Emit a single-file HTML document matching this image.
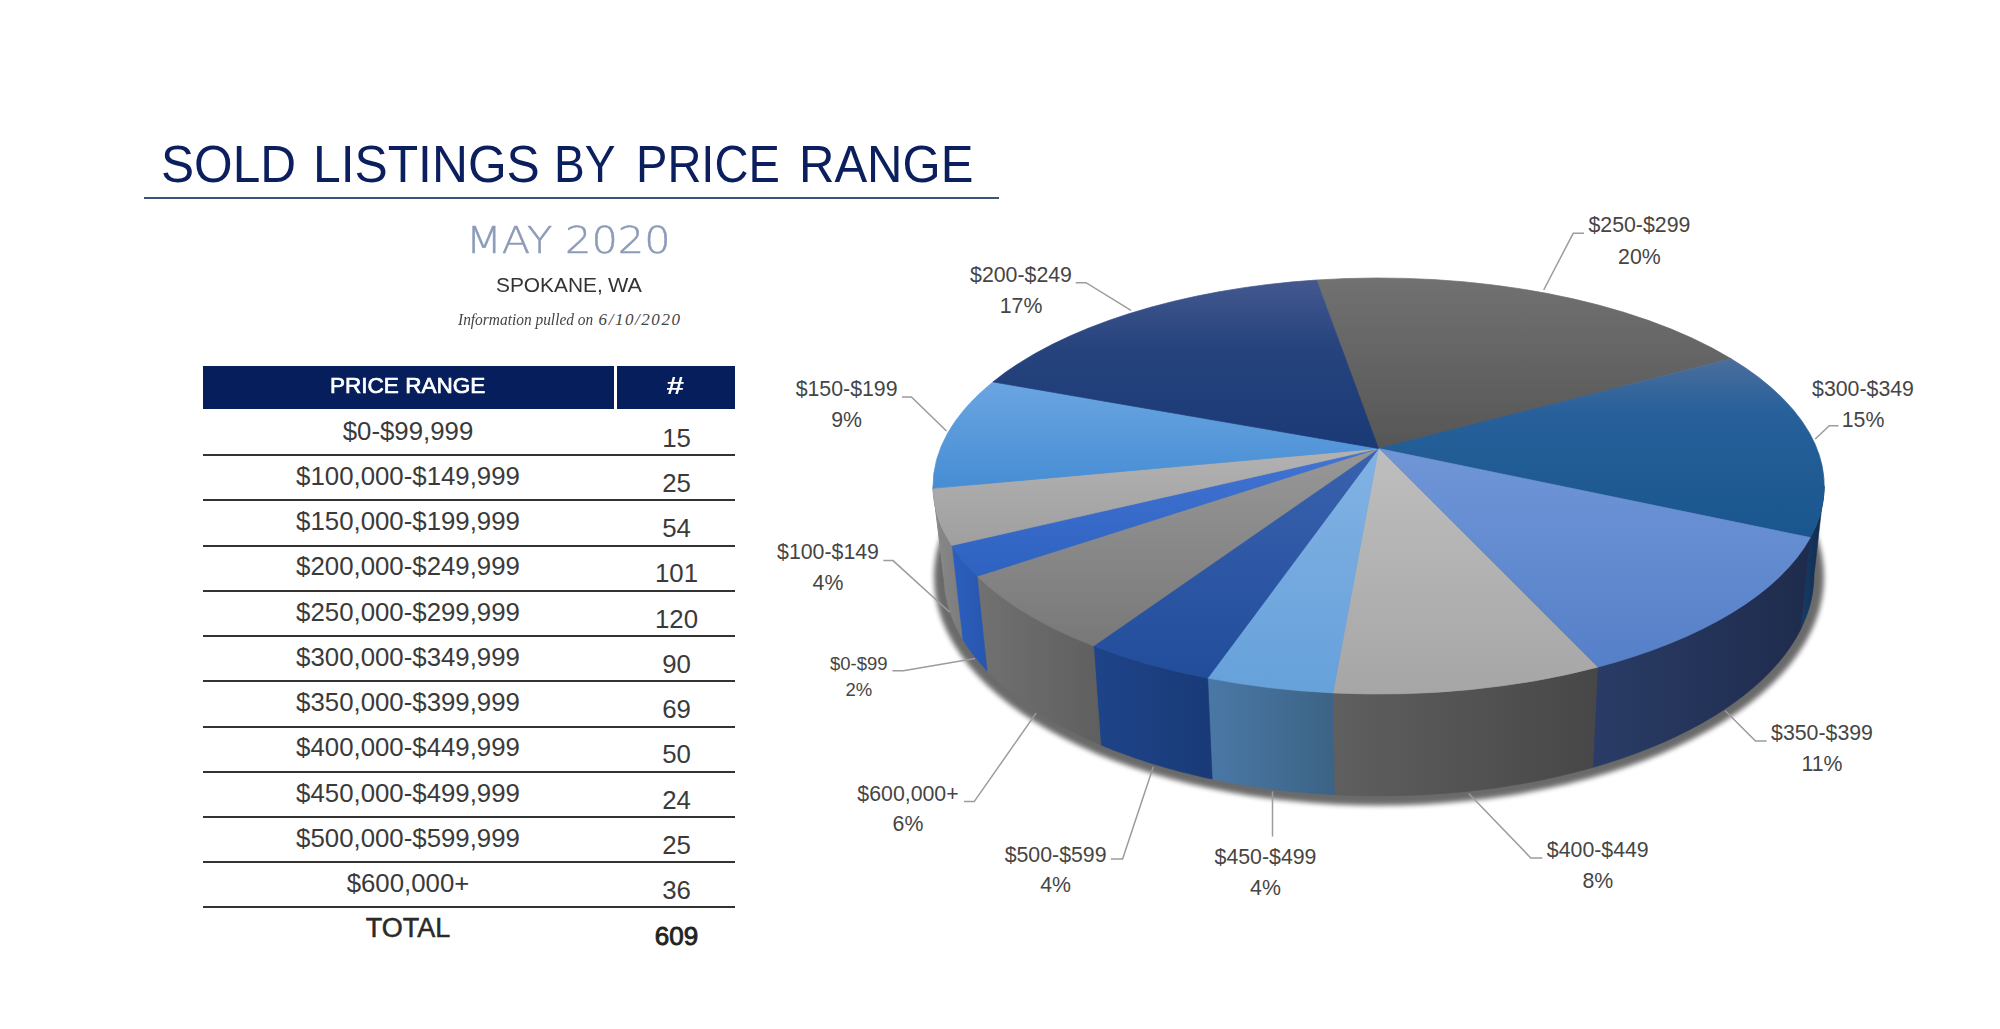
<!DOCTYPE html>
<html lang="en"><head><meta charset="utf-8"><title>Sold Listings by Price Range</title>
<style>
html,body{margin:0;padding:0;background:#fff;}
body{width:2000px;height:1029px;position:relative;overflow:hidden;font-family:"Liberation Sans",sans-serif;}
.pie{position:absolute;left:0;top:0;}
h1{margin:0;font-size:inherit;font-weight:inherit;}
.t{position:absolute;display:block;line-height:0;white-space:nowrap;transform-origin:0 0;}
.rule{position:absolute;left:144px;top:197.3px;width:855px;height:1.9px;background:#3b537d;}
.th{position:absolute;top:366px;height:42.8px;background:#061f5c;}
.th1{left:202.6px;width:411px;}
.th2{left:616.6px;width:118.4px;}
.th .t{margin-top:-366px;}
.th1 .t{margin-left:-202.6px;}
.th2 .t{margin-left:-616.6px;}
.ln{position:absolute;left:202.6px;width:532.4px;height:2px;background:#333;}
.row{position:absolute;left:203px;width:532px;height:45.25px;font-size:25.8px;color:#3a3a3a;}
.row .c1{position:absolute;left:0;width:410px;text-align:center;top:6.3px;line-height:30px;}
.row .c2{position:absolute;left:414px;width:119px;text-align:center;top:13.2px;line-height:30px;}
.row.total .c1{font-weight:400;font-size:27px;color:#2a2a2a;top:6px;-webkit-text-stroke:0.5px #2a2a2a;}
.row.total .c2{font-weight:400;font-size:26px;color:#222;top:14px;-webkit-text-stroke:0.9px #222;}
</style></head><body>
<h1><span class="t" style="left:161.27px;top:165.32px;font-family:'Liberation Sans',sans-serif;font-weight:400;font-style:normal;font-size:51.3px;color:#0b1f5e;transform:scaleX(0.9672);">SOLD</span> <span class="t" style="left:313.49px;top:165.32px;font-family:'Liberation Sans',sans-serif;font-weight:400;font-style:normal;font-size:51.3px;color:#0b1f5e;transform:scaleX(0.9704);">LISTINGS</span> <span class="t" style="left:553.80px;top:165.32px;font-family:'Liberation Sans',sans-serif;font-weight:400;font-style:normal;font-size:51.3px;color:#0b1f5e;transform:scaleX(0.8986);">BY</span> <span class="t" style="left:636.12px;top:165.32px;font-family:'Liberation Sans',sans-serif;font-weight:400;font-style:normal;font-size:51.3px;color:#0b1f5e;transform:scaleX(0.9173);">PRICE</span> <span class="t" style="left:799.25px;top:165.32px;font-family:'Liberation Sans',sans-serif;font-weight:400;font-style:normal;font-size:51.3px;color:#0b1f5e;transform:scaleX(0.9558);">RANGE</span></h1>
<div class="rule"></div>
<div class="month"><span class="t" style="left:465.86px;top:239.76px;font-family:'DejaVu Sans',sans-serif;font-weight:200;font-style:normal;font-size:37.4px;color:#8d9bb8;transform:scaleX(1.1104);-webkit-text-stroke:0.45px #8d9bb8;">MAY</span> <span class="t" style="left:565.09px;top:239.76px;font-family:'DejaVu Sans',sans-serif;font-weight:200;font-style:normal;font-size:37.4px;color:#8d9bb8;transform:scaleX(1.1099);-webkit-text-stroke:0.45px #8d9bb8;">2020</span></div>
<div class="city"><span class="t" style="left:495.66px;top:285.39px;font-family:'Liberation Sans',sans-serif;font-weight:400;font-style:normal;font-size:20.8px;color:#333;transform:scaleX(1.0045);">SPOKANE,</span> <span class="t" style="left:607.59px;top:285.39px;font-family:'Liberation Sans',sans-serif;font-weight:400;font-style:normal;font-size:20.8px;color:#333;transform:scaleX(1.0367);">WA</span></div>
<div class="info"><span class="t" style="left:457.54px;top:319.96px;font-family:'Liberation Serif',serif;font-weight:400;font-style:italic;font-size:17px;color:#444;transform:scaleX(0.9062);">Information pulled on</span> <span class="t" style="left:598.62px;top:319.96px;font-family:'Liberation Serif',serif;font-weight:400;font-style:italic;font-size:17px;color:#444;transform:scaleX(1.0000);letter-spacing:1.55px;">6/10/2020</span></div>
<div class="th th1"><span class="t" style="left:330.44px;top:385.67px;font-family:'Liberation Sans',sans-serif;font-weight:400;font-style:normal;font-size:22.6px;color:#fff;transform:scaleX(0.9975);-webkit-text-stroke:0.7px #fff;">PRICE RANGE</span></div><div class="th th2"><span class="t" style="left:665.57px;top:385.83px;font-family:'Liberation Sans',sans-serif;font-weight:700;font-style:italic;font-size:23px;color:#fff;transform:scaleX(1.3813);">#</span></div>
<div class="row" style="top:409.50px"><span class="c1">$0-$99,999</span><span class="c2">15</span></div><div class="ln" style="top:454px"></div>
<div class="row" style="top:454.73px"><span class="c1">$100,000-$149,999</span><span class="c2">25</span></div><div class="ln" style="top:499px"></div>
<div class="row" style="top:499.96px"><span class="c1">$150,000-$199,999</span><span class="c2">54</span></div><div class="ln" style="top:545px"></div>
<div class="row" style="top:545.19px"><span class="c1">$200,000-$249,999</span><span class="c2">101</span></div><div class="ln" style="top:590px"></div>
<div class="row" style="top:590.42px"><span class="c1">$250,000-$299,999</span><span class="c2">120</span></div><div class="ln" style="top:635px"></div>
<div class="row" style="top:635.65px"><span class="c1">$300,000-$349,999</span><span class="c2">90</span></div><div class="ln" style="top:680px"></div>
<div class="row" style="top:680.88px"><span class="c1">$350,000-$399,999</span><span class="c2">69</span></div><div class="ln" style="top:726px"></div>
<div class="row" style="top:726.11px"><span class="c1">$400,000-$449,999</span><span class="c2">50</span></div><div class="ln" style="top:771px"></div>
<div class="row" style="top:771.34px"><span class="c1">$450,000-$499,999</span><span class="c2">24</span></div><div class="ln" style="top:816px"></div>
<div class="row" style="top:816.57px"><span class="c1">$500,000-$599,999</span><span class="c2">25</span></div><div class="ln" style="top:861px"></div>
<div class="row" style="top:861.80px"><span class="c1">$600,000+</span><span class="c2">36</span></div><div class="ln" style="top:906px"></div>
<div class="row total" style="top:907.03px"><span class="c1">TOTAL</span><span class="c2">609</span></div>
<svg class="pie" width="2000" height="1029" viewBox="0 0 2000 1029">
<defs>
<linearGradient id="g250" x1="0" y1="0" x2="0" y2="1"><stop offset="0" stop-color="#717171"/><stop offset="1" stop-color="#565656"/></linearGradient>
<linearGradient id="g300" x1="0" y1="0" x2="0" y2="1"><stop offset="0" stop-color="#4b6e9d"/><stop offset="0.3" stop-color="#27609a"/><stop offset="1" stop-color="#19568e"/></linearGradient>
<linearGradient id="g350" x1="0" y1="0" x2="0" y2="1"><stop offset="0" stop-color="#7096d7"/><stop offset="1" stop-color="#557fc8"/></linearGradient>
<linearGradient id="g400" x1="0" y1="0" x2="0" y2="1"><stop offset="0" stop-color="#bebebe"/><stop offset="1" stop-color="#a6a6a6"/></linearGradient>
<linearGradient id="g450" x1="0" y1="0" x2="0" y2="1"><stop offset="0" stop-color="#82b2e4"/><stop offset="1" stop-color="#66a1da"/></linearGradient>
<linearGradient id="g500" x1="0" y1="0" x2="0" y2="1"><stop offset="0" stop-color="#3a62ae"/><stop offset="1" stop-color="#214d9b"/></linearGradient>
<linearGradient id="g600" x1="0" y1="0" x2="0" y2="1"><stop offset="0" stop-color="#989898"/><stop offset="1" stop-color="#787878"/></linearGradient>
<linearGradient id="g0" x1="0" y1="0" x2="0" y2="1"><stop offset="0" stop-color="#4274d3"/><stop offset="1" stop-color="#2e62c0"/></linearGradient>
<linearGradient id="g100" x1="0" y1="0" x2="0" y2="1"><stop offset="0" stop-color="#b2b2b2"/><stop offset="1" stop-color="#9f9f9f"/></linearGradient>
<linearGradient id="g150" x1="0" y1="0" x2="0" y2="1"><stop offset="0" stop-color="#6aa5e1"/><stop offset="1" stop-color="#468dd4"/></linearGradient>
<linearGradient id="g200" x1="0" y1="0" x2="0" y2="1"><stop offset="0" stop-color="#44588f"/><stop offset="0.4" stop-color="#26437d"/><stop offset="1" stop-color="#1a3a76"/></linearGradient>
<linearGradient id="s300"><stop offset="0" stop-color="#173c66"/><stop offset="1" stop-color="#10294a"/></linearGradient>
<linearGradient id="s350"><stop offset="0" stop-color="#2a3c66"/><stop offset="1" stop-color="#1e2b4c"/></linearGradient>
<linearGradient id="s400"><stop offset="0" stop-color="#5f5f5f"/><stop offset="1" stop-color="#474747"/></linearGradient>
<linearGradient id="s450"><stop offset="0" stop-color="#4a78a6"/><stop offset="1" stop-color="#3c6385"/></linearGradient>
<linearGradient id="s500"><stop offset="0" stop-color="#1e4489"/><stop offset="1" stop-color="#193a77"/></linearGradient>
<linearGradient id="s600"><stop offset="0" stop-color="#717171"/><stop offset="1" stop-color="#5f5f5f"/></linearGradient>
<linearGradient id="s0"><stop offset="0" stop-color="#2b5fbe"/><stop offset="1" stop-color="#2856ae"/></linearGradient>
<linearGradient id="s100"><stop offset="0" stop-color="#8a8a8a"/><stop offset="1" stop-color="#7c7c7c"/></linearGradient>
<linearGradient id="s150"><stop offset="0" stop-color="#8a8a8a"/><stop offset="1" stop-color="#8a8a8a"/></linearGradient>
<linearGradient id="sideShade" x1="930" y1="0" x2="1826" y2="0" gradientUnits="userSpaceOnUse">
<stop offset="0" stop-color="#000" stop-opacity="0.18"/>
<stop offset="0.06" stop-color="#fff" stop-opacity="0.04"/>
<stop offset="0.3" stop-color="#fff" stop-opacity="0.03"/>
<stop offset="0.65" stop-color="#000" stop-opacity="0.12"/>
<stop offset="1" stop-color="#000" stop-opacity="0.25"/>
</linearGradient>
<filter id="blur" x="-20%" y="-20%" width="140%" height="140%"><feGaussianBlur stdDeviation="2.6"/></filter>
</defs>
<ellipse cx="1379.0" cy="577.0" rx="445.0" ry="228.5" fill="#000" opacity="0.58" filter="url(#blur)"/>
<g>
<path d="M1824.2,486.0 L1824.1,490.3 L1823.8,494.7 L1823.3,499.0 L1822.6,503.4 L1821.8,507.7 L1820.7,512.0 L1819.4,516.3 L1818.0,520.6 L1816.4,524.9 L1814.5,529.1 L1812.5,533.4 L1810.3,537.6 L1800.4,629.8 L1802.6,625.3 L1804.5,620.8 L1806.3,616.3 L1807.9,611.8 L1809.4,607.2 L1810.6,602.6 L1811.6,598.0 L1812.5,593.4 L1813.1,588.8 L1813.6,584.2 L1813.9,579.6 L1814.0,575.0Z" fill="url(#s300)" stroke="url(#s300)" stroke-width="0.6"/>
<path d="M1810.3,537.6 L1808.0,541.6 L1805.5,545.7 L1802.8,549.7 L1800.0,553.7 L1797.0,557.6 L1793.8,561.5 L1790.4,565.4 L1786.9,569.3 L1783.2,573.1 L1779.4,576.9 L1775.4,580.7 L1771.2,584.4 L1766.9,588.1 L1762.4,591.7 L1757.7,595.3 L1752.9,598.8 L1748.0,602.3 L1742.9,605.8 L1737.6,609.2 L1732.2,612.6 L1726.7,615.9 L1721.0,619.1 L1715.2,622.3 L1709.2,625.4 L1703.1,628.5 L1696.9,631.6 L1690.6,634.5 L1684.1,637.4 L1677.5,640.3 L1670.7,643.1 L1663.9,645.8 L1656.9,648.4 L1649.9,651.0 L1642.7,653.5 L1635.4,656.0 L1628.0,658.4 L1620.5,660.7 L1612.9,662.9 L1605.2,665.1 L1597.4,667.2 L1592.6,767.5 L1600.2,765.3 L1607.7,763.0 L1615.1,760.6 L1622.4,758.2 L1629.7,755.6 L1636.8,753.0 L1643.8,750.3 L1650.7,747.6 L1657.5,744.8 L1664.2,741.9 L1670.8,738.9 L1677.2,735.9 L1683.5,732.8 L1689.7,729.7 L1695.8,726.4 L1701.8,723.2 L1707.6,719.8 L1713.3,716.4 L1718.8,713.0 L1724.2,709.5 L1729.5,705.9 L1734.6,702.3 L1739.6,698.6 L1744.4,694.9 L1749.1,691.1 L1753.7,687.3 L1758.0,683.4 L1762.3,679.5 L1766.3,675.6 L1770.3,671.6 L1774.0,667.6 L1777.6,663.5 L1781.0,659.4 L1784.3,655.3 L1787.4,651.1 L1790.3,646.9 L1793.1,642.7 L1795.7,638.4 L1798.2,634.1 L1800.4,629.8Z" fill="url(#s350)" stroke="url(#s350)" stroke-width="0.6"/>
<path d="M1597.4,667.2 L1589.4,669.3 L1581.3,671.2 L1573.1,673.1 L1564.8,675.0 L1556.5,676.7 L1548.0,678.4 L1539.5,680.0 L1531.0,681.5 L1522.3,682.9 L1513.7,684.2 L1504.9,685.5 L1496.1,686.6 L1487.3,687.7 L1478.4,688.7 L1469.4,689.6 L1460.5,690.5 L1451.4,691.2 L1442.4,691.9 L1433.3,692.4 L1424.2,692.9 L1415.1,693.3 L1406.0,693.6 L1396.9,693.8 L1387.7,694.0 L1378.6,694.0 L1369.4,694.0 L1360.3,693.8 L1351.1,693.6 L1342.0,693.3 L1332.9,692.9 L1334.4,794.8 L1343.3,795.3 L1352.2,795.6 L1361.1,795.8 L1370.0,796.0 L1379.0,796.0 L1387.9,796.0 L1396.8,795.8 L1405.8,795.6 L1414.7,795.3 L1423.6,794.8 L1432.4,794.3 L1441.3,793.7 L1450.1,793.0 L1458.9,792.2 L1467.7,791.4 L1476.4,790.4 L1485.1,789.3 L1493.7,788.2 L1502.3,786.9 L1510.8,785.6 L1519.3,784.2 L1527.7,782.7 L1536.1,781.1 L1544.4,779.4 L1552.6,777.6 L1560.8,775.8 L1568.9,773.8 L1576.9,771.8 L1584.8,769.7 L1592.6,767.5Z" fill="url(#s400)" stroke="url(#s400)" stroke-width="0.6"/>
<path d="M1332.9,692.9 L1323.7,692.4 L1314.5,691.8 L1305.4,691.2 L1296.3,690.4 L1287.2,689.6 L1278.2,688.6 L1269.2,687.6 L1260.2,686.5 L1251.3,685.3 L1242.5,684.1 L1233.7,682.7 L1225.0,681.2 L1216.3,679.7 L1207.7,678.1 L1212.2,779.1 L1220.6,780.8 L1229.0,782.5 L1237.5,784.0 L1246.1,785.4 L1254.8,786.8 L1263.4,788.1 L1272.2,789.2 L1281.0,790.3 L1289.8,791.3 L1298.6,792.2 L1307.5,793.0 L1316.5,793.7 L1325.4,794.3 L1334.4,794.8Z" fill="url(#s450)" stroke="url(#s450)" stroke-width="0.6"/>
<path d="M1207.7,678.1 L1199.5,676.5 L1191.4,674.8 L1183.3,673.0 L1175.3,671.1 L1167.4,669.2 L1159.6,667.1 L1151.9,665.1 L1144.2,662.9 L1136.7,660.7 L1129.2,658.4 L1121.9,656.0 L1114.6,653.6 L1107.5,651.1 L1100.4,648.5 L1093.5,645.9 L1100.7,744.9 L1107.5,747.7 L1114.3,750.4 L1121.3,753.0 L1128.4,755.6 L1135.6,758.2 L1142.8,760.6 L1150.2,763.0 L1157.7,765.3 L1165.2,767.5 L1172.8,769.6 L1180.6,771.7 L1188.4,773.6 L1196.2,775.5 L1204.2,777.4 L1212.2,779.1Z" fill="url(#s500)" stroke="url(#s500)" stroke-width="0.6"/>
<path d="M1093.5,645.9 L1086.6,643.1 L1079.8,640.3 L1073.1,637.4 L1066.6,634.5 L1060.2,631.5 L1053.9,628.4 L1047.7,625.3 L1041.7,622.1 L1035.8,618.9 L1030.1,615.6 L1024.5,612.3 L1019.1,608.9 L1013.8,605.4 L1008.7,601.9 L1003.7,598.4 L998.8,594.8 L994.2,591.2 L989.7,587.5 L985.3,583.8 L981.1,580.0 L977.1,576.2 L987.1,670.9 L991.0,674.9 L995.1,678.9 L999.3,682.8 L1003.7,686.8 L1008.3,690.6 L1013.0,694.4 L1017.9,698.2 L1022.9,701.9 L1028.0,705.6 L1033.3,709.2 L1038.8,712.7 L1044.4,716.2 L1050.1,719.7 L1056.0,723.0 L1062.0,726.3 L1068.1,729.6 L1074.4,732.8 L1080.8,735.9 L1087.3,739.0 L1094.0,741.9 L1100.7,744.9Z" fill="url(#s600)" stroke="url(#s600)" stroke-width="0.6"/>
<path d="M977.1,576.2 L972.8,571.9 L968.8,567.6 L964.9,563.3 L961.2,558.9 L957.8,554.4 L954.6,550.0 L951.6,545.5 L962.2,638.2 L965.1,643.0 L968.2,647.7 L971.6,652.4 L975.1,657.1 L978.9,661.7 L982.9,666.3 L987.1,670.9Z" fill="url(#s0)" stroke="url(#s0)" stroke-width="0.6"/>
<path d="M951.6,545.5 L949.0,541.2 L946.5,536.9 L944.3,532.5 L942.2,528.2 L940.4,523.8 L938.8,519.4 L937.3,515.0 L936.1,510.5 L935.1,506.1 L934.3,501.7 L933.6,497.2 L933.2,492.8 L933.0,488.3 L944.0,577.4 L944.2,582.2 L944.6,586.9 L945.2,591.6 L946.0,596.4 L947.0,601.1 L948.2,605.8 L949.6,610.5 L951.2,615.1 L953.0,619.8 L955.0,624.4 L957.2,629.0 L959.6,633.6 L962.2,638.2Z" fill="url(#s100)" stroke="url(#s100)" stroke-width="0.6"/>
<path d="M933.0,488.3 L933.0,487.1 L933.0,486.0 L944.0,575.0 L944.0,576.2 L944.0,577.4Z" fill="url(#s150)" stroke="url(#s150)" stroke-width="0.6"/>
</g>
<g>
<path d="M1378.5,448.5 L1316.6,280.0 A445.6,208.0 0 0 1 1731.2,358.8Z" fill="url(#g250)" stroke="url(#g250)" stroke-width="0.7"/>
<path d="M1378.5,448.5 L1731.2,358.8 A445.6,208.0 0 0 1 1810.3,537.6Z" fill="url(#g300)" stroke="url(#g300)" stroke-width="0.7"/>
<path d="M1378.5,448.5 L1810.3,537.6 A445.6,208.0 0 0 1 1597.4,667.2Z" fill="url(#g350)" stroke="url(#g350)" stroke-width="0.7"/>
<path d="M1378.5,448.5 L1597.4,667.2 A445.6,208.0 0 0 1 1332.9,692.9Z" fill="url(#g400)" stroke="url(#g400)" stroke-width="0.7"/>
<path d="M1378.5,448.5 L1332.9,692.9 A445.6,208.0 0 0 1 1207.7,678.1Z" fill="url(#g450)" stroke="url(#g450)" stroke-width="0.7"/>
<path d="M1378.5,448.5 L1207.7,678.1 A445.6,208.0 0 0 1 1093.5,645.9Z" fill="url(#g500)" stroke="url(#g500)" stroke-width="0.7"/>
<path d="M1378.5,448.5 L1093.5,645.9 A445.6,208.0 0 0 1 977.1,576.2Z" fill="url(#g600)" stroke="url(#g600)" stroke-width="0.7"/>
<path d="M1378.5,448.5 L977.1,576.2 A445.6,208.0 0 0 1 951.6,545.5Z" fill="url(#g0)" stroke="url(#g0)" stroke-width="0.7"/>
<path d="M1378.5,448.5 L951.6,545.5 A445.6,208.0 0 0 1 933.0,488.3Z" fill="url(#g100)" stroke="url(#g100)" stroke-width="0.7"/>
<path d="M1378.5,448.5 L933.0,488.3 A445.6,208.0 0 0 1 992.9,381.9Z" fill="url(#g150)" stroke="url(#g150)" stroke-width="0.7"/>
<path d="M1378.5,448.5 L992.9,381.9 A445.6,208.0 0 0 1 1316.6,280.0Z" fill="url(#g200)" stroke="url(#g200)" stroke-width="0.7"/>
</g>
<g font-family="'Liberation Sans', sans-serif" fill="#454545" text-anchor="middle">
<polyline points="1584.0,233.3 1573.2,233.3 1543.7,290.0" fill="none" stroke="#9c9c9c" stroke-width="1.5"/>
<text x="1639.4" y="232" font-size="21.3">$250-$299</text>
<text x="1639.4" y="263.5" font-size="21.3">20%</text>
<polyline points="1838.5,425.8 1829.3,425.8 1815.2,439.0" fill="none" stroke="#9c9c9c" stroke-width="1.5"/>
<text x="1863" y="396" font-size="21.3">$300-$349</text>
<text x="1863" y="427" font-size="21.3">15%</text>
<polyline points="1766.6,741.0 1755.5,741.0 1725.2,710.7" fill="none" stroke="#9c9c9c" stroke-width="1.5"/>
<text x="1822" y="740" font-size="21.3">$350-$399</text>
<text x="1822" y="771" font-size="21.3">11%</text>
<polyline points="1542.3,857.9 1530.8,857.9 1468.7,793.5" fill="none" stroke="#9c9c9c" stroke-width="1.5"/>
<text x="1597.8" y="857" font-size="21.3">$400-$449</text>
<text x="1597.8" y="887.5" font-size="21.3">8%</text>
<polyline points="1272.5,836.5 1272.5,791.4" fill="none" stroke="#9c9c9c" stroke-width="1.5"/>
<text x="1265.5" y="863.5" font-size="21.3">$450-$499</text>
<text x="1265.5" y="894.6" font-size="21.3">4%</text>
<polyline points="1110.8,859.0 1122.6,859.0 1153.3,766.7" fill="none" stroke="#9c9c9c" stroke-width="1.5"/>
<text x="1055.6" y="861.6" font-size="21.3">$500-$599</text>
<text x="1055.6" y="892.4" font-size="21.3">4%</text>
<polyline points="963.9,801.6 974.2,801.6 1036.1,713.1" fill="none" stroke="#9c9c9c" stroke-width="1.5"/>
<text x="908" y="800.6" font-size="21.3">$600,000+</text>
<text x="908" y="831" font-size="21.3">6%</text>
<polyline points="892.4,670.8 903.4,670.8 975.1,658.6" fill="none" stroke="#9c9c9c" stroke-width="1.5"/>
<text x="858.8" y="670" font-size="18.5">$0-$99</text>
<text x="858.8" y="695.8" font-size="18.5">2%</text>
<polyline points="883.3,560.6 893.0,560.6 949.8,612.2" fill="none" stroke="#9c9c9c" stroke-width="1.5"/>
<text x="828" y="558.8" font-size="21.3">$100-$149</text>
<text x="828" y="590" font-size="21.3">4%</text>
<polyline points="902.0,397.0 911.4,397.0 946.5,431.0" fill="none" stroke="#9c9c9c" stroke-width="1.5"/>
<text x="846.6" y="396" font-size="21.3">$150-$199</text>
<text x="846.6" y="426.7" font-size="21.3">9%</text>
<polyline points="1075.7,282.7 1086.0,282.7 1131.0,310.4" fill="none" stroke="#9c9c9c" stroke-width="1.5"/>
<text x="1021" y="281.5" font-size="21.3">$200-$249</text>
<text x="1021" y="313" font-size="21.3">17%</text>
</g>
</svg>
</body></html>
